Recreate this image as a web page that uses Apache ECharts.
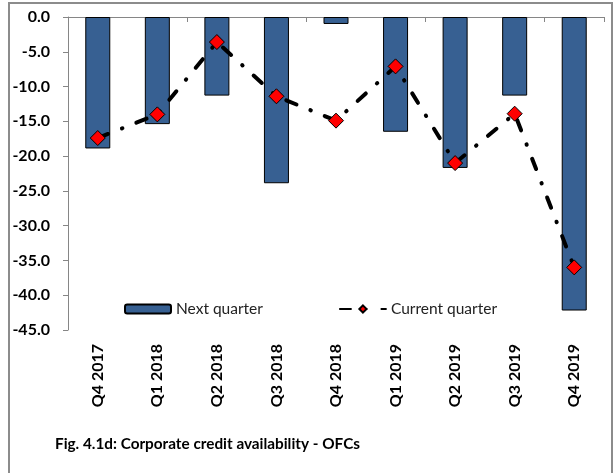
<!DOCTYPE html>
<html>
<head>
<meta charset="utf-8">
<script src="https://cdn.jsdelivr.net/npm/echarts@6/dist/echarts.min.js"></script>
<style>
  html, body { margin: 0; padding: 0; background: #fff; }
  #chart { width: 616px; height: 473px; }
</style>
</head>
<body>
<div id="chart"></div>
<script>
// quarters on the x axis
const quarters = ['Q4 2017', 'Q1 2018', 'Q2 2018', 'Q3 2018', 'Q4 2018',
  'Q1 2019', 'Q2 2019', 'Q3 2019', 'Q4 2019'];
// bars
const nextQuarter = [-18.9, -15.4, -11.3, -23.9, -1.0, -16.5, -21.7, -11.3, -42.2];
// dash-dot line with diamonds
const currentQuarter = [-17.4, -14.0, -3.6, -11.4, -14.9, -7.1, -21.0, -13.9, -36.0];

const font = 'Lato, "Open Sans", sans-serif';
const axisGrey = '#868686';

const chart = echarts.init(document.getElementById('chart'), null, { renderer: 'canvas' });

const option = {
  animation: false,
  backgroundColor: '#fff',
  grid: { left: 68, right: 12, top: 17, bottom: 143 },
  legend: {
    left: 119,
    top: 296,
    itemGap: 76,
    itemWidth: 46,
    itemHeight: 9,
    textStyle: { fontFamily: font, fontSize: 15.5, color: '#222' },
    data: ['Next quarter', 'Current quarter']
  },
  xAxis: [
    {
      type: 'category',
      data: quarters,
      position: 'bottom',
      axisLine: { show: false },
      axisTick: { show: false },
      axisLabel: {
        rotate: 90,
        margin: 14,
        fontFamily: font,
        fontWeight: 'bold',
        fontSize: 16,
        color: '#000'
      }
    },
    {
      type: 'category',
      data: quarters,
      position: 'top',
      axisLine: { show: true, lineStyle: { color: axisGrey, width: 1 } },
      axisTick: { show: true, inside: true, length: 5, lineStyle: { color: axisGrey } },
      axisLabel: { show: false }
    }
  ],
  yAxis: {
    type: 'value',
    min: -45,
    max: 0,
    interval: 5,
    axisLine: { show: true, lineStyle: { color: axisGrey, width: 1 } },
    axisTick: { show: true, length: 5, lineStyle: { color: axisGrey } },
    splitLine: { show: false },
    axisLabel: {
      margin: 18,
      fontFamily: font,
      fontWeight: 'bold',
      fontSize: 16,
      color: '#000',
      formatter: v => v.toFixed(1)
    }
  },
  series: [
    {
      name: 'Next quarter',
      type: 'bar',
      data: nextQuarter,
      barWidth: 25,
      itemStyle: { color: '#376092', borderColor: '#000', borderWidth: 1 }
    },
    {
      name: 'Current quarter',
      type: 'line',
      data: currentQuarter,
      symbol: 'diamond',
      symbolSize: 15,
      itemStyle: { color: '#ff0000', borderColor: '#000', borderWidth: 1 },
      lineStyle: { color: '#000', width: 4, type: [11, 15, 0.5, 15], cap: 'round' },
      z: 5
    }
  ],
  graphic: [
    {
      type: 'rect',
      shape: { x: 9, y: 3, width: 603, height: 480 },
      style: { fill: null, stroke: '#8c8c8c', lineWidth: 2 },
      silent: true
    },
    {
      type: 'text',
      left: 55,
      top: 437,
      style: {
        text: 'Fig. 4.1d: Corporate credit availability - OFCs',
        fontFamily: font,
        fontWeight: 'bold',
        fontSize: 15.3,
        fill: '#000'
      }
    }
  ]
};

chart.setOption(option);
</script>
</body>
</html>
